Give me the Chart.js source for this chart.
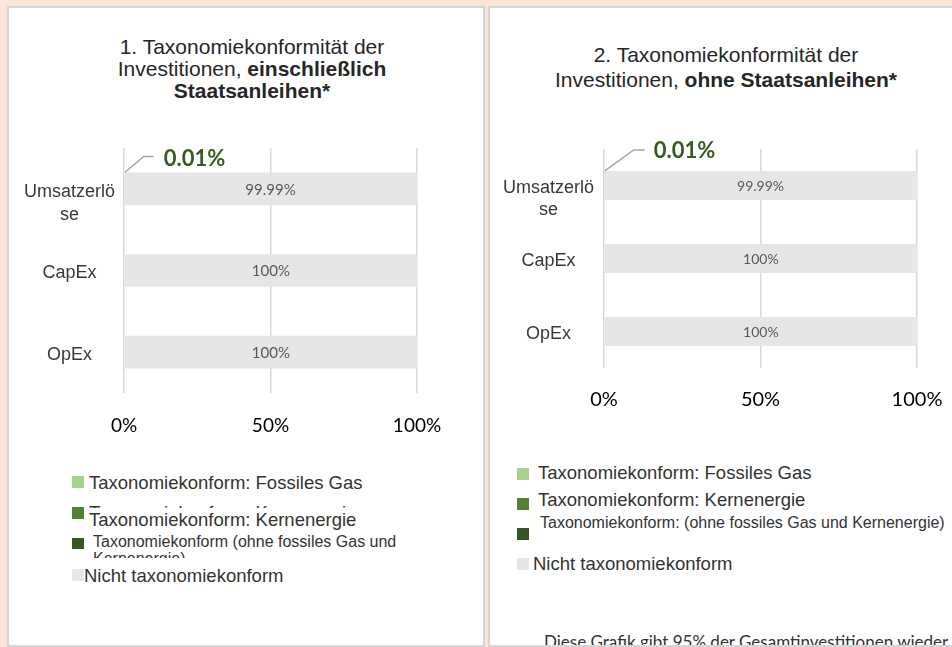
<!DOCTYPE html>
<html><head><meta charset="utf-8">
<script src="https://cdn.jsdelivr.net/npm/chart.js@4.4.1/dist/chart.umd.min.js"></script>
<style>
html,body{margin:0;padding:0;}
body{width:952px;height:647px;background:#fce4d6;position:relative;overflow:hidden;font-family:'Liberation Sans',Arial,sans-serif;color:#333;}
.panel{position:absolute;top:6px;height:641px;background:#fff;border:2px solid #d6d6d6;box-sizing:border-box;}
.title{position:absolute;text-align:center;font-size:21px;color:#262626;white-space:nowrap;transform:translateX(-50%);}
canvas{position:absolute;}
.lg{position:absolute;white-space:nowrap;color:#333;}
</style></head><body>
<div class="panel" style="left:7px;width:478px"></div>
<div class="panel" style="left:488px;width:480px"></div>
<div class="title" style="left:252px;top:36px;line-height:22px">1. Taxonomiekonformität der<br>Investitionen, <b>einschließlich<br>Staatsanleihen*</b></div>
<div class="title" style="left:726px;top:42px;line-height:25px">2. Taxonomiekonformität der<br>Investitionen, <b>ohne Staatsanleihen*</b></div>
<canvas id="c1" width="470" height="310" style="left:9px;top:138px;width:470px;height:310px"></canvas>
<canvas id="c2" width="462" height="290" style="left:490px;top:138px;width:462px;height:290px"></canvas>
<div id="leg"></div>
<div style="position:absolute;left:89px;top:505px;width:300px;height:3px;overflow:hidden"><div class="lg" style="left:0;top:-3.4px;font-size:18.5px;line-height:21px">Taxonomiekonform: Kernenergie</div></div>
<div style="position:absolute;left:490px;top:620px;width:462px;height:25px;overflow:hidden"><div class="lg" style="left:54px;top:11.5px;font-family:Lato;font-size:17px;line-height:20px">Diese Grafik gibt 95% der Gesamtinvestitionen wieder</div></div>
<script>
// ---- data ----
const categories = ["Umsatzerlöse", "CapEx", "OpEx"];
const seriesNames1 = ["Taxonomiekonform: Fossiles Gas", "Taxonomiekonform: Kernenergie", "Taxonomiekonform (ohne fossiles Gas und Kernenergie)", "Nicht taxonomiekonform"];
const seriesNames2 = ["Taxonomiekonform: Fossiles Gas", "Taxonomiekonform: Kernenergie", "Taxonomiekonform: (ohne fossiles Gas und Kernenergie)", "Nicht taxonomiekonform"];
// chart 1: including sovereign bonds
const gas1 = [0, 0, 0];
const nuclear1 = [0, 0, 0];
const aligned1 = [0.01, 0, 0];
const notAligned1 = [99.99, 100, 100];
// chart 2: excluding sovereign bonds
const gas2 = [0, 0, 0];
const nuclear2 = [0, 0, 0];
const aligned2 = [0.01, 0, 0];
const notAligned2 = [99.99, 100, 100];
const xTicks = [0, 50, 100];

// ---- styles ----
const seriesColors = ["#a9d18e", "#548235", "#375623", "#e7e6e6"];

// bars thinner than half a pixel are not painted (as in the original rendering)
function barColor(i) {
  return (c) => {
    const s = c.chart.scales.x;
    if (s && typeof c.raw === 'number' && Math.abs(s.getPixelForValue(c.raw) - s.getPixelForValue(0)) < 0.5) return 'rgba(0,0,0,0)';
    return seriesColors[i];
  };
}

const annot = {
  id: 'annot',
  afterDatasetsDraw(chart, args, opts) {
    const ctx = chart.ctx;
    const ds = chart.data.datasets;
    const naIdx = ds.length - 1;
    chart.getDatasetMeta(naIdx).data.forEach((bar, i) => {
      const v = ds[naIdx].data[i];
      ctx.save();
      ctx.font = opts.valueSize + 'px Lato';
      ctx.fillStyle = '#595959';
      ctx.textAlign = 'center';
      ctx.textBaseline = 'middle';
      ctx.fillText(v + '%', (bar.x + bar.base) / 2, bar.y + 1);
      ctx.restore();
    });
    const alIdx = 2;
    chart.getDatasetMeta(alIdx).data.forEach((bar, i) => {
      const v = ds[alIdx].data[i];
      if (!(v > 0)) return;
      const x0 = bar.base, y0 = bar.y - bar.height / 2;
      ctx.save();
      ctx.strokeStyle = '#a6a6a6';
      ctx.lineWidth = 1.5;
      ctx.beginPath();
      ctx.moveTo(x0, y0);
      ctx.lineTo(x0 + opts.elbow[0], y0 + opts.elbow[1]);
      ctx.lineTo(x0 + opts.end[0], y0 + opts.end[1]);
      ctx.stroke();
      ctx.font = 'bold ' + opts.calloutSize + 'px Lato';
      ctx.fillStyle = '#3a5a24';
      ctx.textAlign = 'left';
      ctx.textBaseline = 'middle';
      ctx.fillText(v.toFixed(2) + '%', x0 + opts.text[0], y0 + opts.text[1]);
      ctx.restore();
    });
  }
};

function makeChart(id, names, values, o) {
  return new Chart(document.getElementById(id), {
    type: 'bar',
    data: {
      labels: categories,
      datasets: names.map((n, i) => ({
        label: n, data: values[i], backgroundColor: barColor(i),
        barPercentage: 0.4, categoryPercentage: 1, borderWidth: 0, inflateAmount: 0
      }))
    },
    options: {
      indexAxis: 'y', responsive: false, animation: false, devicePixelRatio: 1,
      layout: { padding: { top: o.padTop, right: o.padRight, left: 0, bottom: 0 } },
      plugins: {
        legend: { display: false }, tooltip: { enabled: false },
        annot: o.annot
      },
      scales: {
        x: {
          stacked: true, min: xTicks[0], max: xTicks[xTicks.length - 1],
          afterBuildTicks(s) { s.ticks = xTicks.map(v => ({ value: v })); },
          ticks: { callback: v => v + '%', padding: o.xPad, color: '#000', font: { family: 'Lato', size: o.xFont } },
          grid: { color: '#d9d9d9', lineWidth: 1.5, drawTicks: false },
          border: { display: false },
          afterFit(s) { s.height = o.xH; s.paddingLeft = 0; s.paddingRight = 0; }
        },
        y: {
          stacked: true,
          grid: { display: false }, border: { display: false },
          ticks: {
            crossAlign: 'center', padding: o.yPad, labelOffset: o.yOff, color: '#383838',
            font: { family: 'Liberation Sans', size: 18, lineHeight: o.yLH },
            callback(v) { const s = this.getLabelForValue(v); return s.length > 10 ? ['', s.slice(0, 10), s.slice(10)] : s; }
          },
          afterFit(s) { s.width = o.yW; s.paddingTop = 0; s.paddingBottom = 0; }
        }
      }
    },
    plugins: [annot]
  });
}

makeChart('c1', seriesNames1, [gas1, nuclear1, aligned1, notAligned1], {
  padTop: 10, padRight: 62, xH: 55, xPad: 21, xFont: 19, yW: 115, yLH: 1.3, yPad: 1, yOff: 3,
  annot: { valueSize: 15, calloutSize: 22, elbow: [19, -16], end: [29, -16], text: [39, -14] }
});
makeChart('c2', seriesNames2, [gas2, nuclear2, aligned2, notAligned2], {
  padTop: 11, padRight: 35, xH: 60, xPad: 20, xFont: 20, yW: 114, yLH: 1.2, yPad: 2, yOff: 3,
  annot: { valueSize: 14, calloutSize: 22, elbow: [29, -21], end: [40, -21], text: [49, -20] }
});

// ---- HTML legends ----
const legendLayout1 = [
  { bx: 72, by: 476, bh: 12, tx: 89, tc: 482, fs: 18.5 },
  { bx: 72, by: 507, bh: 12, tx: 89, tc: 519, fs: 18.5 },
  { bx: 72, by: 538, bh: 11, tx: 93, tc: 541.5, fs: 16, wrap: 312, lh: 17, clip: 25 },
  { bx: 72, by: 569, bh: 12, tx: 84, tc: 575, fs: 18.5 }
];
const legendLayout2 = [
  { bx: 517, by: 468, bh: 12, tx: 538, tc: 472, fs: 18.5 },
  { bx: 517, by: 498, bh: 12, tx: 538, tc: 499, fs: 18.5 },
  { bx: 517, by: 528, bh: 12, tx: 540, tc: 523, fs: 16 },
  { bx: 517, by: 558, bh: 12, tx: 533, tc: 563.5, fs: 18.5 }
];
function buildLegend(names, layout) {
  const root = document.getElementById('leg');
  names.forEach((name, i) => {
    const L = layout[i];
    const box = document.createElement('div');
    box.style.cssText = `position:absolute;left:${L.bx}px;top:${L.by}px;width:12px;height:${L.bh}px;background:${seriesColors[i]}`;
    root.appendChild(box);
    const lh = L.lh || Math.round(L.fs * 1.15);
    const t = document.createElement('div');
    t.className = 'lg';
    t.textContent = name;
    if (L.wrap) {
      t.style.cssText = `left:${L.tx}px;top:${L.tc - lh / 2}px;width:${L.wrap}px;height:${L.clip}px;overflow:hidden;white-space:normal;font-size:${L.fs}px;line-height:${lh}px`;
    } else {
      t.style.cssText = `left:${L.tx}px;top:${L.tc - lh / 2}px;font-size:${L.fs}px;line-height:${lh}px`;
    }
    root.appendChild(t);
  });
}
buildLegend(seriesNames1, legendLayout1);
buildLegend(seriesNames2, legendLayout2);
</script>
</body></html>
